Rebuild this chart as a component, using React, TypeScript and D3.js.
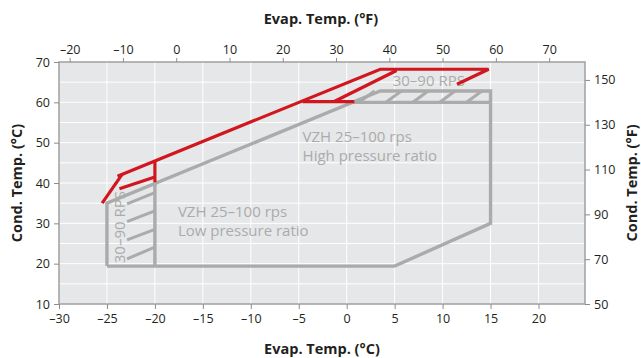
import { useEffect, useRef } from "react";
import * as d3 from "d3";

type Pt = [number, number];

// axis ticks
const X_TICKS_C = [-30, -25, -20, -15, -10, -5, 0, 5, 10, 15, 20];
const Y_TICKS_C = [10, 20, 30, 40, 50, 60, 70];
const X_TICKS_F = [-20, -10, 0, 10, 20, 30, 40, 50, 60, 70];
const Y_TICKS_F = [50, 70, 90, 110, 130, 150];
const GRID_X = [-25, -20, -15, -10, -5, 0, 5, 10, 15, 20];
const GRID_Y = [15, 20, 25, 30, 35, 40, 45, 50, 55, 60, 65];

// gray envelope (VZH low pressure ratio), evap °C / cond °C
const LOW_ENVELOPE: Pt[] = [
  [-25, 19.4], [-25, 35], [3.5, 62.8], [15, 62.8], [15, 30], [5, 19.4], [-25, 19.4],
];
const LOW_DIVIDER: Pt[] = [[-20, 40], [-20, 19.4]];
const HIGH_DIVIDER: Pt[] = [[0.6, 60], [15, 60]];
const LOW_HATCH: Pt[][] = [
  [[-22.9, 34.8], [-20, 37.6]],
  [[-22.9, 30.4], [-20, 33.1]],
  [[-22.9, 25.9], [-20, 28.5]],
  [[-22.9, 21.2], [-20, 24.1]],
];
const HIGH_HATCH: Pt[][] = [
  [[1.3, 60], [2.9, 62.8]],
  [[4.1, 60], [5.7, 62.8]],
  [[6.9, 60], [8.5, 62.8]],
  [[9.7, 60], [11.3, 62.8]],
  [[12.5, 60], [14.1, 62.8]],
];

// red envelope (VZH high pressure ratio)
const RED_LINES: Pt[][] = [
  [[-25.5, 35], [-23.4, 42.2]],
  [[-23.9, 41.7], [3.5, 68.2], [14.8, 68.2], [11.5, 64.5]],
  [[-23.7, 38.6], [-20, 41.5]],
  [[-20, 40.2], [-20, 45.5]],
  [[-4.6, 60.2], [0.8, 60.2]],
  [[-1.3, 60.2], [5.2, 67.9]],
];

const W = 641;
const H = 358;
const M = { top: 62, right: 56, bottom: 54, left: 59 };
const FONT = "'Open Sans', 'Noto Sans', sans-serif";
const RED = "#d1161f";
const GRAY = "#ababab";
const LABEL = "#ababab";

const toF = (c: number) => c * 1.8 + 32;

const App = () => {
  const svgRef = useRef<SVGSVGElement | null>(null);

  useEffect(() => {
    if (!svgRef.current) return;
    const svg = d3.select(svgRef.current);
    svg.selectAll("*").remove();

    const x = d3.scaleLinear().domain([-30, 24.85]).range([M.left, W - M.right]);
    const y = d3.scaleLinear().domain([10, 70]).range([H - M.bottom, M.top]);
    const xF = d3.scaleLinear().domain(x.domain().map(toF)).range(x.range());
    const yF = d3.scaleLinear().domain(y.domain().map(toF)).range(y.range());

    const line = d3
      .line<Pt>()
      .x((d) => x(d[0]))
      .y((d) => y(d[1]));

    const [x0, x1] = x.range();
    const [y0, y1] = y.range();

    // plot background
    svg
      .append("rect")
      .attr("x", x0)
      .attr("y", y1)
      .attr("width", x1 - x0)
      .attr("height", y0 - y1)
      .attr("fill", "#e6e7e8");

    // Grid lines
    svg
      .append("g")
      .selectAll("line")
      .data(GRID_X)
      .join("line")
      .attr("x1", (v) => x(v))
      .attr("x2", (v) => x(v))
      .attr("y1", y1)
      .attr("y2", y0)
      .attr("stroke", "#fff")
      .attr("stroke-width", 1);
    svg
      .append("g")
      .selectAll("line")
      .data(GRID_Y)
      .join("line")
      .attr("x1", x0)
      .attr("x2", x1)
      .attr("y1", (v) => y(v))
      .attr("y2", (v) => y(v))
      .attr("stroke", "#fff")
      .attr("stroke-width", 1);

    // gray envelope
    const gray = svg.append("g").attr("fill", "none").attr("stroke", GRAY);
    gray
      .append("path")
      .attr("d", line(LOW_ENVELOPE))
      .attr("stroke-width", 3.4)
      .attr("stroke-linejoin", "miter");
    [LOW_DIVIDER, HIGH_DIVIDER].forEach((seg) =>
      gray.append("path").attr("d", line(seg)).attr("stroke-width", 3.4)
    );
    [...LOW_HATCH, ...HIGH_HATCH].forEach((seg) =>
      gray.append("path").attr("d", line(seg)).attr("stroke-width", 3)
    );

    // region labels
    const labels = svg
      .append("g")
      .attr("fill", LABEL)
      .attr("font-family", FONT)
      .attr("font-size", 15);
    const lowT = labels.append("text").attr("x", x(-17.6)).attr("y", y(31.6));
    lowT.append("tspan").text("VZH 25–100 rps");
    lowT.append("tspan").attr("x", x(-17.6)).attr("dy", 19).text("Low pressure ratio");
    const highT = labels.append("text").attr("x", x(-4.6)).attr("y", y(50.2));
    highT.append("tspan").text("VZH 25–100 rps");
    highT.append("tspan").attr("x", x(-4.6)).attr("dy", 19).text("High pressure ratio");
    labels.append("text").attr("x", x(4.8)).attr("y", y(64.1)).text("30–90 RPS");
    labels
      .append("text")
      .attr("transform", `translate(${x(-23.1)},${y(20.1)}) rotate(-90)`)
      .text("30–90 RPS");

    // red envelope
    const red = svg
      .append("g")
      .attr("fill", "none")
      .attr("stroke", RED)
      .attr("stroke-width", 3.2)
      .attr("stroke-linejoin", "miter");
    RED_LINES.forEach((seg) => red.append("path").attr("d", line(seg)));

    // frame
    svg
      .append("rect")
      .attr("x", x0)
      .attr("y", y1)
      .attr("width", x1 - x0)
      .attr("height", y0 - y1)
      .attr("fill", "none")
      .attr("stroke", "#a0a0a0")
      .attr("stroke-width", 1.5);

    const styleAxis = (axis: d3.Selection<SVGGElement, unknown, null, undefined>) => {
      axis.select(".domain").remove();
      axis.selectAll("line").attr("stroke", "#8c8c8c");
      axis
        .selectAll("text")
        .attr("fill", "#231f20")
        .attr("font-size", 12.5)
        .attr("font-family", FONT);
    };
    const fmt = (v: d3.NumberValue) => String(v).replace("-", "–");

    svg
      .append("g")
      .attr("transform", `translate(0,${y0})`)
      .call(d3.axisBottom(x).tickValues(X_TICKS_C).tickSize(5).tickPadding(5).tickFormat(fmt))
      .call(styleAxis);
    svg
      .append("g")
      .attr("transform", `translate(0,${y1})`)
      .call(d3.axisTop(xF).tickValues(X_TICKS_F).tickSize(4).tickPadding(4).tickFormat(fmt))
      .call(styleAxis);
    svg
      .append("g")
      .attr("transform", `translate(${x0},0)`)
      .call(d3.axisLeft(y).tickValues(Y_TICKS_C).tickSize(5).tickPadding(4).tickFormat(fmt))
      .call(styleAxis);
    svg
      .append("g")
      .attr("transform", `translate(${x1},0)`)
      .call(d3.axisRight(yF).tickValues(Y_TICKS_F).tickSize(5).tickPadding(4).tickFormat(fmt))
      .call(styleAxis);

    // axis titles
    const titles = svg
      .append("g")
      .attr("font-family", FONT)
      .attr("font-weight", "bold")
      .attr("font-size", 14.5)
      .attr("fill", "#231f20")
      .attr("text-anchor", "middle");
    titles.append("text").attr("x", 321).attr("y", 24).text("Evap. Temp. (°F)");
    titles.append("text").attr("x", 322).attr("y", 354).text("Evap. Temp. (°C)");
    titles
      .append("text")
      .attr("transform", `translate(22,${(y0 + y1) / 2}) rotate(-90)`)
      .text("Cond. Temp. (°C)");
    titles
      .append("text")
      .attr("transform", `translate(637,${(y0 + y1) / 2}) rotate(-90)`)
      .text("Cond. Temp. (°F)");
  }, []);

  return (
    <svg
      ref={svgRef}
      width={W}
      height={H}
      style={{ position: "absolute", left: 0, top: 0, background: "#fff" }}
    />
  );
};

export default App;
